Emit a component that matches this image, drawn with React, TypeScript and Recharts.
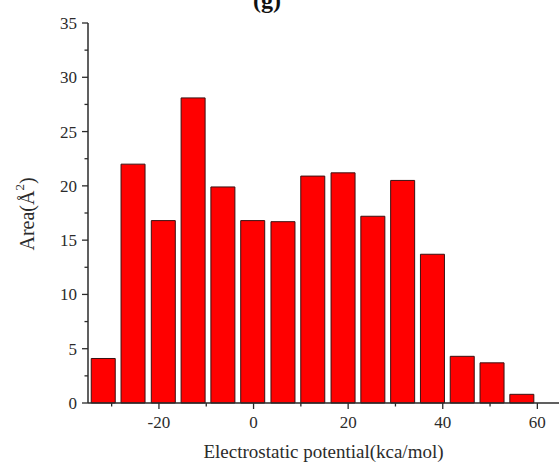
import { Bar, BarChart, Label, XAxis, YAxis } from 'recharts';

const potentials = [-31.8, -25.5, -19.1, -12.8, -6.5, -0.2, 6.2, 12.5, 18.9, 25.2, 31.5, 37.8, 44.1, 50.4, 56.7];
const areas = [4.1, 22.0, 16.8, 28.1, 19.9, 16.8, 16.7, 20.9, 21.2, 17.2, 20.5, 13.7, 4.3, 3.7, 0.8];
const xTicks = [-30, -20, -10, 0, 10, 20, 30, 40, 50, 60];
const xLabeled = [-20, 0, 20, 40, 60];
const yTicks = [0, 2.5, 5, 7.5, 10, 12.5, 15, 17.5, 20, 22.5, 25, 27.5, 30, 32.5, 35];
const yLabeled = [0, 5, 10, 15, 20, 25, 30, 35];

const data = potentials.map((p, i) => ({ potential: p, area: areas[i] }));

const serif = '"Liberation Serif", "Times New Roman", serif';
const ink = '#2b2b2b';

function XTick(props: any) {
  const { x, y, payload } = props;
  const major = xLabeled.includes(payload.value);
  return (
    <g>
      <line x1={x} x2={x} y1={y} y2={y + (major ? 6 : 3.5)} stroke={ink} strokeWidth={1.3} />
      {major && (
        <text x={x} y={y + 25} textAnchor="middle" fontFamily={serif} fontSize={17} fill={ink}>
          {payload.value}
        </text>
      )}
    </g>
  );
}

function YTick(props: any) {
  const { x, y, payload } = props;
  const major = yLabeled.includes(payload.value);
  return (
    <g>
      <line x1={x - (major ? 6 : 3.5)} x2={x} y1={y} y2={y} stroke={ink} strokeWidth={1.3} />
      {major && (
        <text x={x - 11} y={y + 6} textAnchor="end" fontFamily={serif} fontSize={17} fill={ink}>
          {payload.value}
        </text>
      )}
    </g>
  );
}

export default function App() {
  return (
    <div style={{ position: 'absolute', left: 0, top: 0, width: 559, height: 465, overflow: 'hidden', background: '#fff' }}>
      <div
        style={{
          position: 'absolute',
          left: 253,
          top: -13,
          fontFamily: serif,
          fontWeight: 'bold',
          fontSize: 24,
          color: '#111',
        }}
      >
        (g)
      </div>
      <BarChart width={566} height={465} data={data} margin={{ top: 23, right: 5, bottom: 32, left: 28 }}>
        <XAxis
          dataKey="potential"
          type="number"
          domain={[-35, 65]}
          ticks={xTicks}
          interval={0}
          tickSize={0}
          tickMargin={0}
          tickLine={false}
          tick={<XTick />}
          axisLine={{ stroke: ink, strokeWidth: 1.5 }}
          height={30}
        >
          <Label
            content={(p: any) => {
              const vb = p.viewBox;
              return (
                <text x={vb.x + vb.width / 2 - 1} y={458} textAnchor="middle" fontFamily={serif} fontSize={19} fill={ink}>
                  Electrostatic potential(kca/mol)
                </text>
              );
            }}
          />
        </XAxis>
        <YAxis
          type="number"
          domain={[0, 35]}
          ticks={yTicks}
          interval={0}
          tickSize={0}
          tickMargin={0}
          tickLine={false}
          tick={<YTick />}
          axisLine={{ stroke: ink, strokeWidth: 1.5 }}
          width={60}
        >
          <Label
            content={() => (
              <text
                x={27}
                y={214}
                transform="rotate(-90 27 214)"
                textAnchor="middle"
                dominantBaseline="central"
                fontFamily={serif}
                fontSize={20}
                fill={ink}
              >
                Area(Å<tspan baselineShift="super" fontSize={13}>2</tspan>)
              </text>
            )}
          />
        </YAxis>
        <Bar dataKey="area" fill="#ff0000" stroke="#3a1212" strokeWidth={1} barSize={24} isAnimationActive={false} />
      </BarChart>
    </div>
  );
}
